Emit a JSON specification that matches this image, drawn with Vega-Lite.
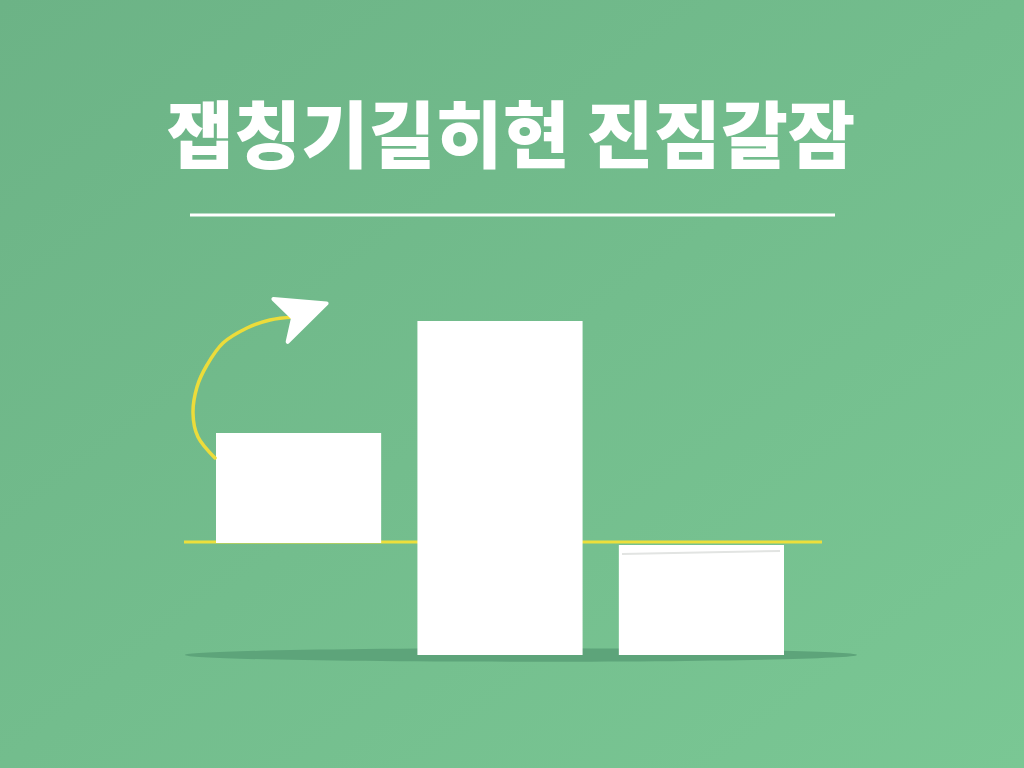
{
  "$schema": "https://vega.github.io/schema/vega-lite/v6.json",
  "description": "Three white bars with a title, a yellow baseline and a curved arrow",
  "width": 1024,
  "height": 768,
  "autosize": {"type": "fit", "contains": "padding"},
  "padding": 0,
  "background": "#72bd8c",
  "config": {"view": {"stroke": null}},
  "resolve": {"scale": {"x": "independent"}},
  "layer": [
    {
      "data": {"values": [{}]},
      "mark": {
        "type": "rect",
        "color": {
          "gradient": "linear",
          "x1": 0, "y1": 0, "x2": 1, "y2": 1,
          "stops": [
            {"offset": 0, "color": "#6cb386"},
            {"offset": 1, "color": "#7ac794"}
          ]
        }
      },
      "encoding": {
        "x": {"datum": 0, "type": "quantitative", "scale": {"domain": [0, 1024]}, "axis": null},
        "x2": {"datum": 1024},
        "y": {"datum": -113, "type": "quantitative", "scale": {"domain": [-113, 655], "zero": false, "nice": false}, "axis": null},
        "y2": {"datum": 655}
      }
    },
    {
      "data": {"values": [{"title": "잽칭기길히현 진짐갈잠"}]},
      "mark": {
        "type": "text",
        "font": "Noto Sans CJK KR",
        "fontSize": 73,
        "fontWeight": 900,
        "color": "white",
        "align": "center",
        "baseline": "middle"
      },
      "encoding": {
        "text": {"field": "title"},
        "x": {"datum": 511, "type": "quantitative", "scale": {"domain": [0, 1024]}, "axis": null},
        "y": {"datum": 515, "type": "quantitative", "scale": {"domain": [-113, 655], "zero": false, "nice": false}, "axis": null}
      }
    },
    {
      "data": {"values": [{}]},
      "mark": {"type": "rule", "color": "white", "strokeWidth": 3},
      "encoding": {
        "x": {"datum": 190, "type": "quantitative", "scale": {"domain": [0, 1024]}, "axis": null},
        "x2": {"datum": 835},
        "y": {"datum": 440, "type": "quantitative", "scale": {"domain": [-113, 655], "zero": false, "nice": false}, "axis": null}
      }
    },
    {
      "data": {"values": [{}]},
      "mark": {
        "type": "point",
        "filled": true,
        "opacity": 1,
        "color": "#5da47a",
        "shape": "M -1 0 A 1 0.02 0 1 0 1 0 A 1 0.02 0 1 0 -1 0 Z",
        "size": 451584
      },
      "encoding": {
        "x": {"datum": 521, "type": "quantitative", "scale": {"domain": [0, 1024]}, "axis": null},
        "y": {"datum": 0, "type": "quantitative", "scale": {"domain": [-113, 655], "zero": false, "nice": false}, "axis": null}
      }
    },
    {
      "data": {"values": [{}]},
      "mark": {"type": "rule", "color": "#ecdf3c", "strokeWidth": 3},
      "encoding": {
        "x": {"datum": 184, "type": "quantitative", "scale": {"domain": [0, 1024]}, "axis": null},
        "x2": {"datum": 822},
        "y": {"datum": 113, "type": "quantitative", "scale": {"domain": [-113, 655], "zero": false, "nice": false}, "axis": null}
      }
    },
    {
      "data": {
        "values": [
          {"bar": "A", "base": 112, "top": 222},
          {"bar": "B", "base": 0, "top": 334},
          {"bar": "C", "base": 0, "top": 110}
        ]
      },
      "mark": {"type": "bar", "color": "white"},
      "encoding": {
        "x": {
          "field": "bar",
          "type": "nominal",
          "scale": {"range": [216, 784], "paddingInner": 0.18, "paddingOuter": 0},
          "axis": null
        },
        "y": {"field": "top", "type": "quantitative", "scale": {"domain": [-113, 655], "zero": false, "nice": false}, "axis": null},
        "y2": {"field": "base"}
      }
    },
    {
      "data": {"values": [{}]},
      "mark": {"type": "rule", "color": "#e2e4e2", "strokeWidth": 2},
      "encoding": {
        "x": {"datum": 622, "type": "quantitative", "scale": {"domain": [0, 1024]}, "axis": null},
        "x2": {"datum": 780},
        "y": {"datum": 101, "type": "quantitative", "scale": {"domain": [-113, 655], "zero": false, "nice": false}, "axis": null},
        "y2": {"datum": 104}
      }
    },
    {
      "data": {
        "values": [
          {"i": 0, "px": 215, "h": 197},
          {"i": 1, "px": 198, "h": 218},
          {"i": 2, "px": 193, "h": 242},
          {"i": 3, "px": 197, "h": 268},
          {"i": 4, "px": 207, "h": 290},
          {"i": 5, "px": 223, "h": 312},
          {"i": 6, "px": 247, "h": 327},
          {"i": 7, "px": 270, "h": 335},
          {"i": 8, "px": 294, "h": 338}
        ]
      },
      "mark": {"type": "line", "color": "#ecdc3a", "strokeWidth": 3.5, "interpolate": "cardinal", "strokeCap": "round"},
      "encoding": {
        "x": {"field": "px", "type": "quantitative", "scale": {"domain": [0, 1024]}, "axis": null},
        "y": {"field": "h", "type": "quantitative", "scale": {"domain": [-113, 655], "zero": false, "nice": false}, "axis": null},
        "order": {"field": "i"}
      }
    },
    {
      "data": {"values": [{}]},
      "mark": {
        "type": "point",
        "filled": true,
        "opacity": 1,
        "color": "white",
        "stroke": "white",
        "strokeWidth": 4,
        "strokeJoin": "round",
        "shape": "M -0.95 -0.68 L 0.95 -0.52 L -0.44 0.85 L -0.25 0 Z",
        "size": 3136
      },
      "encoding": {
        "x": {"datum": 300, "type": "quantitative", "scale": {"domain": [0, 1024]}, "axis": null},
        "y": {"datum": 337, "type": "quantitative", "scale": {"domain": [-113, 655], "zero": false, "nice": false}, "axis": null}
      }
    }
  ]
}
